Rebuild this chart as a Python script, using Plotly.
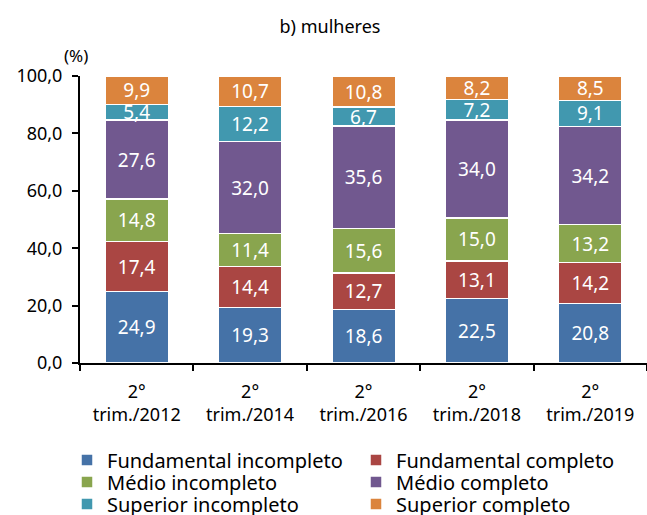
import plotly.graph_objects as go

categories = ["2°<br>trim./2012", "2°<br>trim./2014", "2°<br>trim./2016", "2°<br>trim./2018", "2°<br>trim./2019"]
series_names = ["Fundamental incompleto", "Fundamental completo", "Médio incompleto",
                "Médio completo", "Superior incompleto", "Superior completo"]
fund_incompleto = [24.9, 19.3, 18.6, 22.5, 20.8]
fund_completo = [17.4, 14.4, 12.7, 13.1, 14.2]
medio_incompleto = [14.8, 11.4, 15.6, 15.0, 13.2]
medio_completo = [27.6, 32.0, 35.6, 34.0, 34.2]
sup_incompleto = [5.4, 12.2, 6.7, 7.2, 9.1]
sup_completo = [9.9, 10.7, 10.8, 8.2, 8.5]
y_ticks = [0, 20, 40, 60, 80, 100]

series_values = [fund_incompleto, fund_completo, medio_incompleto,
                 medio_completo, sup_incompleto, sup_completo]
colors = ["#4572A7", "#AA4643", "#89A54E", "#71588F", "#4198AF", "#DB843D"]

FONT = "Noto Sans"
W, H = 647, 515
# legend placement (container pixels): two columns, three rows
leg_x = [67, 356, 67, 356, 67, 356]
leg_y = [460, 460, 482, 482, 504, 504]

fig = go.Figure()
legend_layout = {}
for i, (name, vals, col) in enumerate(zip(series_names, series_values, colors)):
    lid = "legend" if i == 0 else f"legend{i + 1}"
    fig.add_trace(go.Bar(
        x=categories, y=vals, name=name, legend=lid,
        marker=dict(color=col, line=dict(color="white", width=1.5)),
        texttemplate="%{y:.1f}", textposition="inside", insidetextanchor="middle",
        textfont=dict(color="white", size=19, family=FONT),
        constraintext="none",
    ))
    legend_layout[lid] = dict(orientation="h", xref="container", x=leg_x[i] / W, xanchor="left",
                              yref="container", y=1 - leg_y[i] / H, yanchor="middle",
                              font=dict(size=20, family=FONT), itemwidth=30,
                              bgcolor="rgba(0,0,0,0)")

fig.update_layout(
    barmode="stack",
    bargap=0.44,
    separators=",.",
    width=W, height=H,
    margin=dict(l=80, r=0, t=76, b=152, autoexpand=False),
    plot_bgcolor="white", paper_bgcolor="white",
    font=dict(family=FONT, size=18, color="black"),
    title=dict(text="b) mulheres", x=0.51, xanchor="center", xref="container",
               y=1 - 27 / H, yanchor="middle", yref="container",
               font=dict(size=18, family=FONT, color="black")),
    showlegend=True,
    **legend_layout,
)
fig.update_xaxes(showline=True, linecolor="black", linewidth=2, ticks="outside",
                 tickson="boundaries", ticklen=6, tickcolor="black", tickwidth=2,
                 ticklabelstandoff=11, tickfont=dict(size=18, family=FONT))
fig.update_yaxes(range=[0, 100], tickvals=y_ticks, tickformat=".1f", showgrid=False,
                 zeroline=False, showline=True, linecolor="black", linewidth=2,
                 ticks="outside", ticklen=6, tickcolor="black", tickwidth=2,
                 ticklabelstandoff=6, tickfont=dict(size=18, family=FONT))
fig.add_annotation(text="(%)", x=0, xref="paper", xanchor="center", xshift=-4,
                   y=1, yref="paper", yanchor="middle", yshift=21, showarrow=False,
                   font=dict(size=17, family=FONT))
fig.write_html("out.html", config={"displayModeBar": False},
               post_script="document.body.style.margin='0';")
